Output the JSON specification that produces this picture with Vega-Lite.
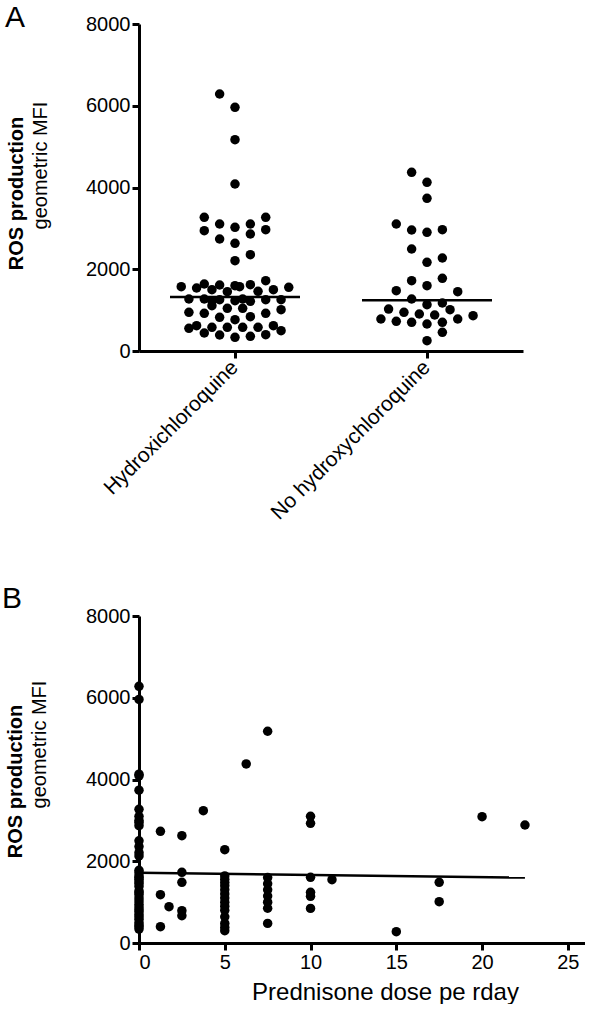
{
  "$schema": "https://vega.github.io/schema/vega-lite/v6.json",
  "background": "white",
  "padding": {"left": 2, "top": 3, "right": 0, "bottom": 0},
  "spacing": 61,
  "config": {
    "font": "Liberation Sans",
    "view": {"stroke": null},
    "axis": {
      "domainColor": "black", "domainWidth": 3, "tickColor": "black", "tickWidth": 3, "tickSize": 7,
      "labelColor": "black", "labelFontSize": 20, "labelFont": "Liberation Sans", "labelPadding": 2, "labelLimit": 0,
      "grid": false, "titleColor": "black", "titleFont": "Liberation Sans", "titleFontWeight": "normal"
    },
    "title": {"fontSize": 30, "font": "Liberation Sans", "fontWeight": "normal", "anchor": "start", "color": "black", "frame": "group"}
  },
  "datasets": {
    "hcq": [
      {"group": "Hydroxichloroquine", "slot": -2, "ros": 6287},
      {"group": "Hydroxichloroquine", "slot": 0, "ros": 5962},
      {"group": "Hydroxichloroquine", "slot": 0, "ros": 5170},
      {"group": "Hydroxichloroquine", "slot": 0, "ros": 4086},
      {"group": "Hydroxichloroquine", "slot": -4, "ros": 3271},
      {"group": "Hydroxichloroquine", "slot": 4, "ros": 3271},
      {"group": "Hydroxichloroquine", "slot": -2, "ros": 3107},
      {"group": "Hydroxichloroquine", "slot": 2, "ros": 3107},
      {"group": "Hydroxichloroquine", "slot": -4, "ros": 2943},
      {"group": "Hydroxichloroquine", "slot": 0, "ros": 3026},
      {"group": "Hydroxichloroquine", "slot": 4, "ros": 2968},
      {"group": "Hydroxichloroquine", "slot": 2, "ros": 2862},
      {"group": "Hydroxichloroquine", "slot": -2, "ros": 2740},
      {"group": "Hydroxichloroquine", "slot": 0, "ros": 2635},
      {"group": "Hydroxichloroquine", "slot": 2, "ros": 2356},
      {"group": "Hydroxichloroquine", "slot": 0, "ros": 2209},
      {"group": "Hydroxichloroquine", "slot": -7, "ros": 1573},
      {"group": "Hydroxichloroquine", "slot": -5, "ros": 1541},
      {"group": "Hydroxichloroquine", "slot": -4, "ros": 1639},
      {"group": "Hydroxichloroquine", "slot": -2, "ros": 1615},
      {"group": "Hydroxichloroquine", "slot": -3, "ros": 1500},
      {"group": "Hydroxichloroquine", "slot": -1, "ros": 1451},
      {"group": "Hydroxichloroquine", "slot": 0, "ros": 1598},
      {"group": "Hydroxichloroquine", "slot": 0.6, "ros": 1573},
      {"group": "Hydroxichloroquine", "slot": 2, "ros": 1622},
      {"group": "Hydroxichloroquine", "slot": 3, "ros": 1459},
      {"group": "Hydroxichloroquine", "slot": 4, "ros": 1720},
      {"group": "Hydroxichloroquine", "slot": 5, "ros": 1500},
      {"group": "Hydroxichloroquine", "slot": 7, "ros": 1558},
      {"group": "Hydroxichloroquine", "slot": -6, "ros": 1272},
      {"group": "Hydroxichloroquine", "slot": -4, "ros": 1272},
      {"group": "Hydroxichloroquine", "slot": -3, "ros": 1231},
      {"group": "Hydroxichloroquine", "slot": -2, "ros": 1255},
      {"group": "Hydroxichloroquine", "slot": 0, "ros": 1231},
      {"group": "Hydroxichloroquine", "slot": 1, "ros": 1272},
      {"group": "Hydroxichloroquine", "slot": 2, "ros": 1215},
      {"group": "Hydroxichloroquine", "slot": 4, "ros": 1255},
      {"group": "Hydroxichloroquine", "slot": 6, "ros": 1255},
      {"group": "Hydroxichloroquine", "slot": -6, "ros": 947},
      {"group": "Hydroxichloroquine", "slot": -4, "ros": 922},
      {"group": "Hydroxichloroquine", "slot": -3, "ros": 1108},
      {"group": "Hydroxichloroquine", "slot": -1, "ros": 1044},
      {"group": "Hydroxichloroquine", "slot": 1, "ros": 1044},
      {"group": "Hydroxichloroquine", "slot": 4, "ros": 922},
      {"group": "Hydroxichloroquine", "slot": 6, "ros": 1010},
      {"group": "Hydroxichloroquine", "slot": -2, "ros": 824},
      {"group": "Hydroxichloroquine", "slot": 0, "ros": 766},
      {"group": "Hydroxichloroquine", "slot": 2, "ros": 840},
      {"group": "Hydroxichloroquine", "slot": -6, "ros": 555},
      {"group": "Hydroxichloroquine", "slot": -5, "ros": 619},
      {"group": "Hydroxichloroquine", "slot": -3, "ros": 579},
      {"group": "Hydroxichloroquine", "slot": -1, "ros": 579},
      {"group": "Hydroxichloroquine", "slot": 1, "ros": 579},
      {"group": "Hydroxichloroquine", "slot": 3, "ros": 579},
      {"group": "Hydroxichloroquine", "slot": 5, "ros": 619},
      {"group": "Hydroxichloroquine", "slot": 6, "ros": 497},
      {"group": "Hydroxichloroquine", "slot": -4, "ros": 440},
      {"group": "Hydroxichloroquine", "slot": -2, "ros": 391},
      {"group": "Hydroxichloroquine", "slot": 0, "ros": 335},
      {"group": "Hydroxichloroquine", "slot": 2, "ros": 359},
      {"group": "Hydroxichloroquine", "slot": 4, "ros": 399},
      {"group": "No hydroxychloroquine", "slot": -2, "ros": 4372},
      {"group": "No hydroxychloroquine", "slot": 0, "ros": 4127},
      {"group": "No hydroxychloroquine", "slot": 0, "ros": 3736},
      {"group": "No hydroxychloroquine", "slot": -4, "ros": 3107},
      {"group": "No hydroxychloroquine", "slot": -2, "ros": 2960},
      {"group": "No hydroxychloroquine", "slot": 0, "ros": 2903},
      {"group": "No hydroxychloroquine", "slot": 2, "ros": 2968},
      {"group": "No hydroxychloroquine", "slot": -2, "ros": 2495},
      {"group": "No hydroxychloroquine", "slot": 2, "ros": 2275},
      {"group": "No hydroxychloroquine", "slot": 0, "ros": 2170},
      {"group": "No hydroxychloroquine", "slot": 2, "ros": 1778},
      {"group": "No hydroxychloroquine", "slot": -2, "ros": 1720},
      {"group": "No hydroxychloroquine", "slot": 0, "ros": 1598},
      {"group": "No hydroxychloroquine", "slot": -4, "ros": 1475},
      {"group": "No hydroxychloroquine", "slot": 4, "ros": 1451},
      {"group": "No hydroxychloroquine", "slot": -2, "ros": 1272},
      {"group": "No hydroxychloroquine", "slot": 2, "ros": 1174},
      {"group": "No hydroxychloroquine", "slot": 0, "ros": 1133},
      {"group": "No hydroxychloroquine", "slot": -5, "ros": 1027},
      {"group": "No hydroxychloroquine", "slot": 3, "ros": 1010},
      {"group": "No hydroxychloroquine", "slot": -3, "ros": 947},
      {"group": "No hydroxychloroquine", "slot": -1, "ros": 905},
      {"group": "No hydroxychloroquine", "slot": 1, "ros": 881},
      {"group": "No hydroxychloroquine", "slot": -6, "ros": 783},
      {"group": "No hydroxychloroquine", "slot": -4, "ros": 727},
      {"group": "No hydroxychloroquine", "slot": -2, "ros": 702},
      {"group": "No hydroxychloroquine", "slot": 0, "ros": 661},
      {"group": "No hydroxychloroquine", "slot": 2, "ros": 702},
      {"group": "No hydroxychloroquine", "slot": 4, "ros": 783},
      {"group": "No hydroxychloroquine", "slot": 6, "ros": 864},
      {"group": "No hydroxychloroquine", "slot": 2, "ros": 457},
      {"group": "No hydroxychloroquine", "slot": 0, "ros": 252}
    ],
    "medians": [
      {"group": "Hydroxichloroquine", "ros": 1320},
      {"group": "No hydroxychloroquine", "ros": 1240}
    ],
    "pred": [
      {"dose": 0, "ros": 6280}, {"dose": 0, "ros": 5960}, {"dose": 0, "ros": 4130}, {"dose": 0, "ros": 4090},
      {"dose": 0, "ros": 3740}, {"dose": 0, "ros": 3270}, {"dose": 0, "ros": 3100}, {"dose": 0, "ros": 3000},
      {"dose": 0, "ros": 2950}, {"dose": 0, "ros": 2870}, {"dose": 0, "ros": 2500}, {"dose": 0, "ros": 2360},
      {"dose": 0, "ros": 2210}, {"dose": 0, "ros": 2130}, {"dose": 0, "ros": 1780}, {"dose": 0, "ros": 1720},
      {"dose": 0, "ros": 1640}, {"dose": 0, "ros": 1600}, {"dose": 0, "ros": 1560}, {"dose": 0, "ros": 1500},
      {"dose": 0, "ros": 1450}, {"dose": 0, "ros": 1380}, {"dose": 0, "ros": 1270}, {"dose": 0, "ros": 1230},
      {"dose": 0, "ros": 1180}, {"dose": 0, "ros": 1100}, {"dose": 0, "ros": 1030}, {"dose": 0, "ros": 950},
      {"dose": 0, "ros": 880}, {"dose": 0, "ros": 820}, {"dose": 0, "ros": 770}, {"dose": 0, "ros": 700},
      {"dose": 0, "ros": 640}, {"dose": 0, "ros": 580}, {"dose": 0, "ros": 500}, {"dose": 0, "ros": 440},
      {"dose": 0, "ros": 400}, {"dose": 0, "ros": 340},
      {"dose": 1.25, "ros": 2732}, {"dose": 1.25, "ros": 1182}, {"dose": 1.25, "ros": 399},
      {"dose": 1.75, "ros": 888},
      {"dose": 2.5, "ros": 2625}, {"dose": 2.5, "ros": 1729}, {"dose": 2.5, "ros": 1485}, {"dose": 2.5, "ros": 790}, {"dose": 2.5, "ros": 668},
      {"dose": 3.75, "ros": 3237},
      {"dose": 5, "ros": 2283}, {"dose": 5, "ros": 1640}, {"dose": 5, "ros": 1560}, {"dose": 5, "ros": 1480},
      {"dose": 5, "ros": 1400}, {"dose": 5, "ros": 1300}, {"dose": 5, "ros": 1200}, {"dose": 5, "ros": 1100},
      {"dose": 5, "ros": 1000}, {"dose": 5, "ros": 900}, {"dose": 5, "ros": 800}, {"dose": 5, "ros": 640},
      {"dose": 5, "ros": 480}, {"dose": 5, "ros": 380}, {"dose": 5, "ros": 300},
      {"dose": 6.25, "ros": 4380},
      {"dose": 7.5, "ros": 5180}, {"dose": 7.5, "ros": 1600}, {"dose": 7.5, "ros": 1450}, {"dose": 7.5, "ros": 1300},
      {"dose": 7.5, "ros": 1150}, {"dose": 7.5, "ros": 1000}, {"dose": 7.5, "ros": 850}, {"dose": 7.5, "ros": 480},
      {"dose": 10, "ros": 3100}, {"dose": 10, "ros": 2928}, {"dose": 10, "ros": 1607}, {"dose": 10, "ros": 1240},
      {"dose": 10, "ros": 1142}, {"dose": 10, "ros": 847},
      {"dose": 11.25, "ros": 1549},
      {"dose": 15, "ros": 277},
      {"dose": 17.5, "ros": 1485}, {"dose": 17.5, "ros": 1011},
      {"dose": 20, "ros": 3090},
      {"dose": 22.5, "ros": 2887}
    ],
    "fit": [
      {"dose": 0, "ros": 1720},
      {"dose": 22.5, "ros": 1600}
    ]
  },
  "vconcat": [
    {
      "title": {"text": "A", "dx": -134, "offset": -19},
      "width": 384,
      "height": 327,
      "layer": [
        {
          "data": {"name": "hcq"},
          "mark": {"type": "circle", "size": 90, "opacity": 1, "color": "black"},
          "encoding": {
            "x": {"field": "group", "type": "nominal", "sort": null,
                  "scale": {"paddingInner": 0, "paddingOuter": 0},
                  "axis": {"title": null, "labelAngle": -45, "labelAlign": "right", "labelBaseline": "middle", "labelFontSize": 21, "labelPadding": 6}},
            "xOffset": {"field": "slot", "type": "quantitative", "scale": {"domain": [-12.5, 12.5]}},
            "y": {"field": "ros", "type": "quantitative", "scale": {"domain": [0, 8000]},
                  "axis": {"values": [0, 2000, 4000, 6000, 8000], "format": "d", "title": "geometric MFI", "titleFontSize": 20,
                           "titleX": -99, "titleY": 141, "titleBaseline": "middle", "titleAngle": -90, "titleAlign": "center"}}
          }
        },
        {
          "data": {"name": "medians"},
          "mark": {"type": "tick", "color": "black", "size": 130, "thickness": 2.5, "opacity": 1},
          "encoding": {
            "x": {"field": "group", "type": "nominal", "sort": null},
            "y": {"field": "ros", "type": "quantitative",
                  "axis": {"orient": "left", "title": "ROS production", "titleFontWeight": "bold", "titleFontSize": 20,
                           "labels": false, "ticks": false, "domain": false,
                           "titleX": -123, "titleY": 169, "titleBaseline": "middle", "titleAngle": -90, "titleAlign": "center"}}
          }
        }
      ],
      "resolve": {"axis": {"y": "independent"}}
    },
    {
      "title": {"text": "B", "dx": -137, "offset": -8},
      "width": 446,
      "height": 327,
      "layer": [
        {
          "data": {"name": "pred"},
          "mark": {"type": "circle", "size": 90, "opacity": 1, "color": "black"},
          "encoding": {
            "x": {"field": "dose", "type": "quantitative", "scale": {"domain": [0, 25]},
                  "axis": {"values": [0, 5, 10, 15, 20, 25], "title": "Prednisone dose pe rday", "titleFontSize": 24, "titlePadding": 8, "titleX": 246, "titleAnchor": "start", "titleAlign": "center"}},
            "y": {"field": "ros", "type": "quantitative", "scale": {"domain": [0, 8000]},
                  "axis": {"values": [0, 2000, 4000, 6000, 8000], "format": "d", "title": "geometric MFI", "titleFontSize": 20,
                           "titleX": -100, "titleY": 128, "titleBaseline": "middle", "titleAngle": -90, "titleAlign": "center"}}
          }
        },
        {
          "data": {"name": "fit"},
          "mark": {"type": "line", "color": "black", "strokeWidth": 2.5},
          "encoding": {
            "x": {"field": "dose", "type": "quantitative"},
            "y": {"field": "ros", "type": "quantitative",
                  "axis": {"orient": "left", "title": "ROS production", "titleFontWeight": "bold", "titleFontSize": 20,
                           "labels": false, "ticks": false, "domain": false,
                           "titleX": -124, "titleY": 165, "titleBaseline": "middle", "titleAngle": -90, "titleAlign": "center"}}
          }
        }
      ],
      "resolve": {"axis": {"y": "independent"}}
    }
  ]
}
